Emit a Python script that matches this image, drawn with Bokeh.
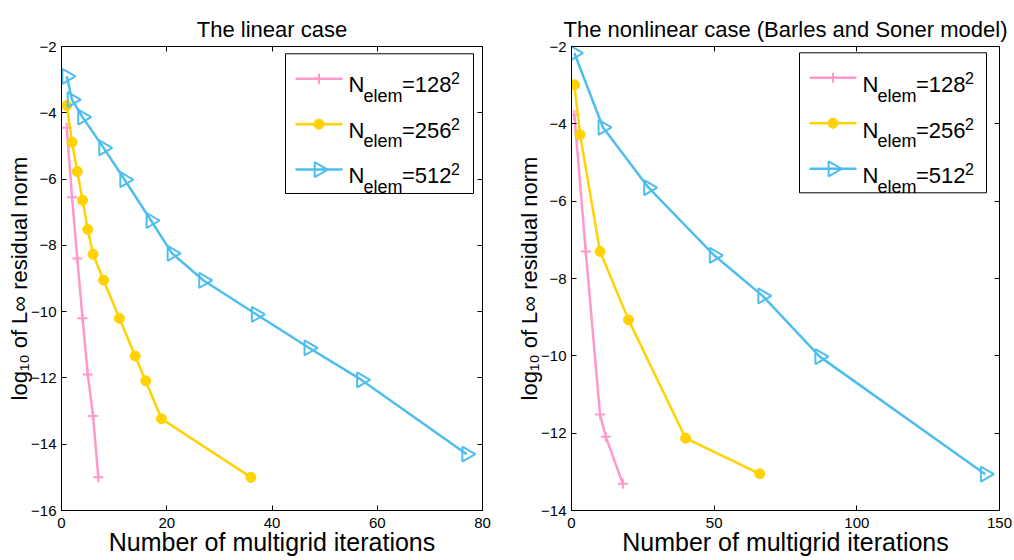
import math
from bokeh.plotting import figure
from bokeh.layouts import row
from bokeh.models import Range1d, LinearAxis, FixedTicker, Label
from bokeh.embed import file_html
from bokeh.resources import INLINE

# ------------------------------------------------------------------ data
# The linear case
lin_iter_128 = [1, 2, 3, 4, 5, 6, 7]
lin_res_128 = [-4.45, -6.55, -8.4, -10.2, -11.9, -13.15, -15.0]
lin_iter_256 = [1, 2, 3, 4, 5, 6, 8, 11, 14, 16, 19, 36]
lin_res_256 = [-3.78, -4.89, -5.77, -6.64, -7.52, -8.27, -9.05, -10.2, -11.34, -12.09, -13.23, -15.0]
lin_iter_512 = [1, 2, 4, 8, 12, 17, 21, 27, 37, 47, 57, 77]
lin_res_512 = [-2.9, -3.6, -4.13, -5.06, -6.02, -7.25, -8.24, -9.06, -10.08, -11.09, -12.06, -14.3]

# The nonlinear case (Barles and Soner model)
nl_iter_128 = [1, 5, 10, 12, 18]
nl_res_128 = [-3.77, -7.3, -11.52, -12.09, -13.31]
nl_iter_256 = [1, 3, 10, 20, 40, 66]
nl_res_256 = [-2.99, -4.28, -7.3, -9.07, -12.13, -13.05]
nl_iter_512 = [1, 11, 27, 50, 67, 87, 145]
nl_res_512 = [-2.17, -4.09, -5.65, -7.4, -8.45, -10.02, -13.06]

lin_xticks = [0, 20, 40, 60, 80]
lin_yticks = [-16, -14, -12, -10, -8, -6, -4, -2]
nl_xticks = [0, 50, 100, 150]
nl_yticks = [-14, -12, -10, -8, -6, -4, -2]

grid_sizes = ["128", "256", "512"]
titles = ["The linear case", "The nonlinear case (Barles and Soner model)"]
x_label = "Number of multigrid iterations"
y_label = "log\u2081\u2080 of L\u221e residual norm"

# ------------------------------------------------------------------ style
FONT = "Liberation Sans"
PINK = "#ff99cc"
YELLOW = "#ffd200"
BLUE = "#4dbeee"
H = 560
LW = 2.5


def tick_text(v):
    return str(v).replace("-", "\u2212")


def style_axis(ax, ticks, show_labels):
    ax.ticker = FixedTicker(ticks=ticks)
    if show_labels:
        ax.major_label_overrides = {t: tick_text(t) for t in ticks}
    else:
        ax.major_label_overrides = {t: "" for t in ticks}
        ax.major_label_standoff = 0
    ax.major_tick_in = 5
    ax.major_tick_out = 0
    ax.minor_tick_line_color = None
    ax.axis_line_color = "black"
    ax.major_tick_line_color = "black"
    ax.major_label_text_font = FONT
    ax.major_label_text_font_size = "15px"
    ax.major_label_text_color = "black"


def add_marker(p, xs, ys, color, marker, **kw):
    if marker == "cross":
        p.scatter(xs, ys, marker="cross", size=10, line_color=color, line_width=2, **kw)
    elif marker == "circle":
        p.scatter(xs, ys, marker="circle", size=10, fill_color=color, line_color=color, **kw)
    else:
        p.scatter(xs, ys, marker="triangle", angle=-math.pi / 2, size=15,
                  fill_color=None, line_color=color, line_width=2, **kw)


def panel(title, series, xr, yr, xticks, yticks, width, bl, br, bt, bb, leg_left, leg_top, leg_w):
    FW = width - bl - br
    FH = H - bt - bb
    p = figure(width=width, height=H, x_range=Range1d(*xr), y_range=Range1d(*yr),
               output_backend="svg", toolbar_location=None, title=title,
               min_border_left=bl, min_border_right=br, min_border_top=bt, min_border_bottom=bb)
    p.extra_x_ranges = {"px": Range1d(0, FW)}
    p.extra_y_ranges = {"px": Range1d(0, FH)}
    p.background_fill_color = "white"
    p.border_fill_color = "white"
    p.outline_line_color = "black"
    p.xgrid.visible = False
    p.ygrid.visible = False
    p.title.text_font = FONT
    p.title.text_font_size = "22px"
    p.title.text_font_style = "normal"
    p.title.text_color = "black"
    p.title.align = "center"
    p.title.standoff = 10

    xa = p.xaxis[0]
    ya = p.yaxis[0]
    style_axis(xa, xticks, True)
    style_axis(ya, yticks, True)
    xa.major_label_standoff = 7
    xa.axis_label = x_label
    xa.axis_label_text_font = FONT
    xa.axis_label_text_font_size = "25px"
    xa.axis_label_text_font_style = "normal"
    xa.axis_label_text_color = "black"
    xa.axis_label_standoff = -3
    ya.axis_label = y_label
    ya.axis_label_text_font = FONT
    ya.axis_label_text_font_size = "22px"
    ya.axis_label_text_font_style = "normal"
    ya.axis_label_text_color = "black"
    ya.axis_label_standoff = -4

    top = LinearAxis()
    style_axis(top, xticks, False)
    p.add_layout(top, "above")
    right = LinearAxis()
    style_axis(right, yticks, False)
    p.add_layout(right, "right")

    # data
    for xs, ys, color, marker in series:
        p.line(xs, ys, line_color=color, line_width=LW)
        add_marker(p, xs, ys, color, marker)

    # legend box (frame pixel coordinates)
    p.quad(left=[leg_left], right=[leg_left + leg_w], top=[leg_top], bottom=[leg_top - 140],
           fill_color="white", line_color="black", line_width=1,
           x_range_name="px", y_range_name="px")
    row_off = [25, 70.5, 116]
    for (xs, ys, color, marker), size_txt, ro in zip(series, grid_sizes, row_off):
        yc = leg_top - ro
        p.segment(x0=[leg_left + 10], y0=[yc], x1=[leg_left + 57], y1=[yc],
                  line_color=color, line_width=LW, x_range_name="px", y_range_name="px")
        add_marker(p, [leg_left + 33.5], [yc], color, marker, x_range_name="px", y_range_name="px")
        pieces = [("N", 63, -7, 22), ("elem", 78, -17.7, 18),
                  ("=" + size_txt, 116.5, -7, 22), ("2", 165.5, -0.4, 16)]
        for txt, dx, dy, fs in pieces:
            p.add_layout(Label(x=leg_left + dx, y=yc + dy, x_units="screen", y_units="screen",
                               text=txt, text_font=FONT, text_font_size=f"{fs}px",
                               text_color="black", text_align="left", text_baseline="alphabetic"))
    return p


lin_series = [(lin_iter_128, lin_res_128, PINK, "cross"),
              (lin_iter_256, lin_res_256, YELLOW, "circle"),
              (lin_iter_512, lin_res_512, BLUE, "triangle")]
nl_series = [(nl_iter_128, nl_res_128, PINK, "cross"),
             (nl_iter_256, nl_res_256, YELLOW, "circle"),
             (nl_iter_512, nl_res_512, BLUE, "triangle")]

p1 = panel(titles[0], lin_series, (0, 80), (-16, -2), lin_xticks, lin_yticks,
           508, 61, 26, 45, 50, 224, 457.7, 188)
p2 = panel(titles[1], nl_series, (0, 150), (-14, -2), nl_xticks, nl_yticks,
           506, 63, 15, 46, 50, 228, 457.7, 187)

layout = row(p1, p2)
open("out.html", "w").write(file_html(layout, INLINE))
